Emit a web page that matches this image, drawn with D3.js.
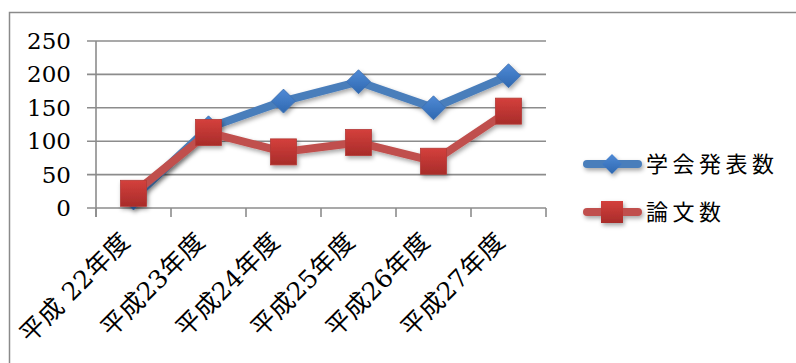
<!DOCTYPE html>
<html><head><meta charset="utf-8">
<script src="https://cdn.jsdelivr.net/npm/d3@7/dist/d3.min.js"></script>
<style>html,body{margin:0;padding:0;background:#fff;}svg{display:block;}</style>
</head><body>
<svg id="c" width="796" height="363"></svg>
<script>
const categories = ["平成 22年度","平成23年度","平成24年度","平成25年度","平成26年度","平成27年度"];
const presentations = [15,120,160,189,150,198];
const papers = [22,113,84,98,70,145];
const yTicks = [0,50,100,150,200,250];
const seriesNames = ["学会発表数","論文数"];

const svg = d3.select("#c");
const defs = svg.append("defs");
const f = defs.append("filter").attr("id","sh").attr("x","-50%").attr("y","-50%").attr("width","200%").attr("height","200%");
f.append("feDropShadow").attr("dx",1.5).attr("dy",2.5).attr("stdDeviation",2).attr("flood-color","#000").attr("flood-opacity",0.35);
const gb = defs.append("linearGradient").attr("id","gb").attr("x1",0).attr("y1",0).attr("x2",0).attr("y2",1);
gb.append("stop").attr("offset","0%").attr("stop-color","#4f8ad6");
gb.append("stop").attr("offset","100%").attr("stop-color","#2f68b0");
const gr = defs.append("linearGradient").attr("id","gr").attr("x1",0).attr("y1",0).attr("x2",0).attr("y2",1);
gr.append("stop").attr("offset","0%").attr("stop-color","#d4403c");
gr.append("stop").attr("offset","100%").attr("stop-color","#a82c2a");

// outer border
svg.append("path").attr("d","M9.5,363V12.5H796").attr("fill","none").attr("stroke","#8a8a8a").attr("stroke-width",1.5);

const x = d3.scaleBand().domain(categories).range([96,546]);
const y = d3.scaleLinear().domain([0,250]).range([208,41]);
const cx = d => x(d) + x.bandwidth()/2;

// gridlines
svg.append("g").selectAll("line").data(yTicks).join("line")
  .attr("x1",87).attr("x2",546).attr("y1",d=>y(d)).attr("y2",d=>y(d))
  .attr("stroke","#8c8c8c").attr("stroke-width",1.6);
// y axis line
svg.append("line").attr("x1",96).attr("x2",96).attr("y1",y(250)).attr("y2",217).attr("stroke","#8c8c8c").attr("stroke-width",1.6);
// x ticks
const xt = categories.map(c=>x(c)).concat([546]);
svg.append("g").selectAll("line").data(xt).join("line")
  .attr("x1",d=>d).attr("x2",d=>d).attr("y1",208).attr("y2",217)
  .attr("stroke","#8c8c8c").attr("stroke-width",1.6);

// y labels
svg.append("g").selectAll("text").data(yTicks).join("text")
  .attr("x",71).attr("y",d=>y(d)+8).attr("text-anchor","end")
  .attr("font-family","'DejaVu Serif', serif").attr("font-size",23).attr("fill","#000")
  .text(d=>d);

// x labels
svg.append("g").selectAll("text").data(categories).join("text")
  .attr("text-anchor","end")
  .attr("transform",d=>`translate(${cx(d)-2},243) rotate(-45)`)
  .attr("font-family","'DejaVu Serif','Noto Sans CJK JP',serif").attr("font-size",25).attr("letter-spacing",0.5).attr("fill","#000")
  .text(d=>d);

const line = d3.line().x((d,i)=>cx(categories[i])).y(d=>y(d));

// blue series
const gBlue = svg.append("g").attr("filter","url(#sh)");
gBlue.append("path").attr("d",line(presentations)).attr("fill","none").attr("stroke","#4a7ebb").attr("stroke-width",8).attr("stroke-linejoin","round").attr("stroke-linecap","round");
gBlue.selectAll("path.m").data(presentations).join("path").attr("class","m")
  .attr("d",(d,i)=>`M${cx(categories[i])},${y(d)-12}l12,12l-12,12l-12,-12z`)
  .attr("fill","url(#gb)").attr("stroke","#3d6fae").attr("stroke-width",0.8);

// red series
const gRed = svg.append("g").attr("filter","url(#sh)");
gRed.append("path").attr("d",line(papers)).attr("fill","none").attr("stroke","#c0504d").attr("stroke-width",8).attr("stroke-linejoin","round").attr("stroke-linecap","round");
gRed.selectAll("rect").data(papers).join("rect")
  .attr("x",(d,i)=>cx(categories[i])-13).attr("y",d=>y(d)-13).attr("width",26).attr("height",26)
  .attr("fill","url(#gr)").attr("stroke","#b33a37").attr("stroke-width",0.8);

// legend
const legY = [164,212];
const lg = svg.append("g");
[0,1].forEach(k=>{
  const g = lg.append("g").attr("filter","url(#sh)");
  g.append("line").attr("x1",587).attr("x2",638).attr("y1",legY[k]).attr("y2",legY[k])
    .attr("stroke",k?"#c0504d":"#4a7ebb").attr("stroke-width",8).attr("stroke-linecap","round");
  if(k===0){
    g.append("path").attr("d",`M612,${legY[k]-10}l10,10l-10,10l-10,-10z`).attr("fill","url(#gb)");
  } else {
    g.append("rect").attr("x",601).attr("y",legY[k]-11).attr("width",22).attr("height",22).attr("fill","url(#gr)");
  }
  lg.append("text").attr("x",646).attr("y",legY[k]+8).attr("font-family","'Noto Sans CJK JP',sans-serif")
    .attr("font-size",22).attr("letter-spacing",4.5).attr("fill","#000").text(seriesNames[k]);
});
</script>
</body></html>
